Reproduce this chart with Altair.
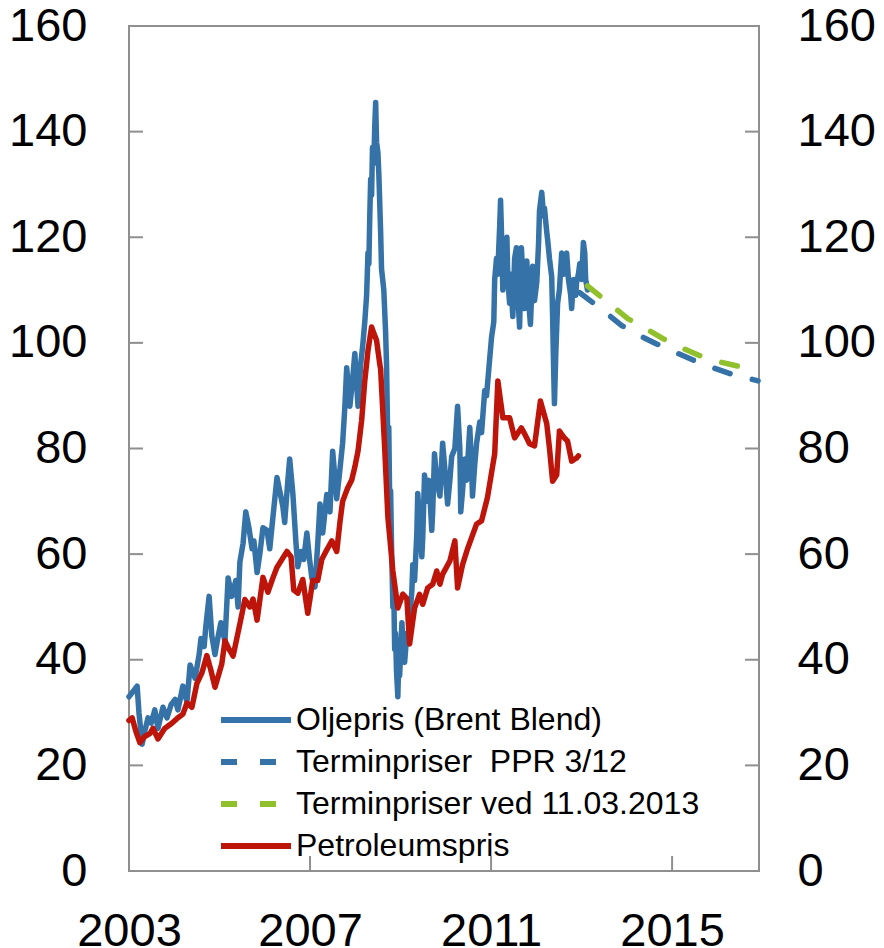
import altair as alt
import pandas as pd

# ---- data ----
brent = [
    (2003.00, 33), (2003.09, 34), (2003.18, 35), (2003.22, 30), (2003.29, 24), (2003.35, 26.5),
    (2003.42, 29), (2003.49, 28), (2003.57, 30.5), (2003.64, 27), (2003.75, 31), (2003.84, 29),
    (2003.93, 31.5), (2004.02, 32.5), (2004.08, 30.5), (2004.19, 35), (2004.28, 32), (2004.35, 39),
    (2004.46, 36.5), (2004.55, 41), (2004.59, 44), (2004.66, 42.5), (2004.70, 46.5), (2004.77, 52),
    (2004.83, 44.5), (2004.90, 41), (2004.96, 44), (2005.03, 47), (2005.12, 43.5), (2005.19, 55.5),
    (2005.27, 52), (2005.36, 55), (2005.41, 50), (2005.45, 58.5), (2005.52, 62), (2005.58, 68),
    (2005.65, 65), (2005.72, 61), (2005.76, 62.5), (2005.83, 56.5), (2005.89, 60), (2005.96, 65),
    (2006.05, 64.5), (2006.11, 61), (2006.18, 67), (2006.27, 74.5), (2006.33, 72), (2006.40, 69),
    (2006.44, 66), (2006.51, 74), (2006.55, 78), (2006.62, 71.5), (2006.69, 62), (2006.73, 57.6),
    (2006.80, 60.5), (2006.86, 59), (2006.93, 64), (2006.99, 59), (2007.04, 55.5), (2007.11, 53.8),
    (2007.17, 62), (2007.22, 69.5), (2007.28, 64), (2007.37, 71.3), (2007.44, 68), (2007.50, 79.5),
    (2007.59, 70.5), (2007.66, 76), (2007.72, 81), (2007.77, 88), (2007.81, 95.3), (2007.88, 88),
    (2007.94, 93), (2007.99, 98), (2008.06, 88), (2008.12, 96), (2008.17, 100), (2008.21, 104),
    (2008.25, 109), (2008.28, 117), (2008.30, 115), (2008.32, 124), (2008.34, 131), (2008.36, 128),
    (2008.38, 137), (2008.41, 134), (2008.43, 141), (2008.45, 145.5), (2008.47, 138), (2008.50, 136),
    (2008.52, 132), (2008.54, 126.5), (2008.56, 121), (2008.58, 114), (2008.63, 110), (2008.67, 102),
    (2008.69, 96), (2008.72, 80), (2008.74, 84), (2008.76, 70), (2008.78, 72), (2008.80, 62),
    (2008.83, 50), (2008.85, 53), (2008.87, 42), (2008.89, 45), (2008.91, 38), (2008.94, 33),
    (2008.96, 40), (2008.98, 37), (2009.03, 47), (2009.07, 41), (2009.09, 39.5), (2009.14, 45),
    (2009.16, 43), (2009.20, 48), (2009.25, 53), (2009.27, 58), (2009.31, 55), (2009.36, 64),
    (2009.38, 71.5), (2009.42, 66), (2009.47, 59.5), (2009.49, 63), (2009.53, 75), (2009.58, 70),
    (2009.62, 74), (2009.64, 72.5), (2009.69, 64.5), (2009.71, 68), (2009.75, 79), (2009.80, 74),
    (2009.87, 71), (2009.93, 81), (2009.98, 76), (2010.04, 69.5), (2010.09, 74), (2010.13, 78.5),
    (2010.20, 80), (2010.26, 88), (2010.31, 80), (2010.33, 68), (2010.37, 72), (2010.42, 78),
    (2010.46, 74), (2010.53, 84), (2010.57, 76), (2010.59, 71), (2010.64, 77), (2010.68, 81),
    (2010.75, 85), (2010.79, 83), (2010.86, 91), (2010.90, 90), (2010.97, 97), (2011.01, 101),
    (2011.06, 104), (2011.08, 112), (2011.12, 116), (2011.15, 113), (2011.17, 118), (2011.19, 122),
    (2011.21, 127), (2011.24, 118), (2011.26, 110), (2011.30, 117), (2011.35, 120), (2011.37, 112),
    (2011.41, 107.5), (2011.43, 113), (2011.48, 105), (2011.52, 116), (2011.56, 118), (2011.59, 109),
    (2011.63, 103), (2011.65, 110), (2011.67, 118), (2011.72, 110), (2011.74, 106.5), (2011.79, 115.5),
    (2011.83, 108), (2011.87, 103.5), (2011.92, 114.5), (2011.96, 108), (2012.01, 111.5), (2012.05, 119),
    (2012.07, 125), (2012.12, 128.5), (2012.16, 124), (2012.18, 125.5), (2012.23, 121), (2012.25, 119.5),
    (2012.29, 116), (2012.34, 112.5), (2012.36, 105), (2012.38, 96), (2012.40, 88.5), (2012.43, 98),
    (2012.47, 107.5), (2012.51, 110), (2012.56, 117), (2012.60, 113), (2012.62, 115), (2012.67, 117),
    (2012.71, 112), (2012.76, 109), (2012.78, 106.5), (2012.82, 112), (2012.87, 109), (2012.89, 111.5),
    (2012.93, 113), (2012.96, 115), (2013.00, 112), (2013.04, 119), (2013.07, 117), (2013.09, 112),
    (2013.13, 110),
]

petroleum = [
    (2003.00, 28.5), (2003.07, 29), (2003.15, 26.5), (2003.24, 24.3), (2003.35, 25.5), (2003.46, 26),
    (2003.53, 27), (2003.64, 25), (2003.79, 27), (2003.95, 28), (2004.08, 29), (2004.19, 29.7),
    (2004.28, 31.8), (2004.39, 31), (2004.50, 35.5), (2004.61, 37.5), (2004.72, 40.8), (2004.81, 38),
    (2004.90, 34.8), (2005.05, 39.2), (2005.12, 43.6), (2005.21, 42), (2005.30, 40.7), (2005.45, 46.8),
    (2005.56, 51.4), (2005.67, 50), (2005.74, 51.5), (2005.83, 47.5), (2005.96, 55.6), (2006.07, 52.8),
    (2006.18, 55.5), (2006.27, 57.5), (2006.38, 59), (2006.49, 60.5), (2006.58, 59.5), (2006.64, 53.2),
    (2006.73, 52.6), (2006.84, 55.2), (2006.95, 48.8), (2007.06, 55), (2007.17, 55), (2007.26, 59),
    (2007.37, 60.8), (2007.48, 62.5), (2007.59, 60.5), (2007.66, 66), (2007.72, 70), (2007.83, 72.5),
    (2007.92, 74), (2007.99, 76.5), (2008.06, 79.5), (2008.14, 85.3), (2008.21, 92.8), (2008.28, 98.5),
    (2008.36, 103), (2008.41, 101.8), (2008.47, 100.5), (2008.54, 96), (2008.56, 95), (2008.65, 80),
    (2008.72, 67), (2008.83, 56.8), (2008.94, 49.8), (2009.05, 52.4), (2009.14, 51.6), (2009.20, 43),
    (2009.31, 49.8), (2009.42, 52.4), (2009.49, 50.5), (2009.60, 53.6), (2009.71, 54.3), (2009.80, 56.8),
    (2009.87, 54.3), (2009.93, 56.2), (2010.09, 58.7), (2010.20, 62.5), (2010.26, 53.6), (2010.37, 58),
    (2010.48, 61), (2010.68, 65.7), (2010.79, 66.3), (2010.92, 70.7), (2011.08, 79), (2011.15, 92.8),
    (2011.26, 85.8), (2011.41, 85.8), (2011.52, 82), (2011.67, 83.9), (2011.74, 82.8), (2011.85, 80.9),
    (2011.96, 80.5), (2012.09, 89), (2012.23, 84.7), (2012.29, 80.1), (2012.36, 73.8), (2012.45, 75),
    (2012.51, 83.3), (2012.62, 82), (2012.69, 81.4), (2012.78, 77.6), (2012.89, 78.2), (2012.93, 78.6),
]

forward_ppr = [
    (2012.96, 109.5), (2013.25, 107.6), (2013.50, 106.0), (2013.88, 103.3), (2014.25, 101.5),
    (2014.66, 99.8), (2015.00, 98.5), (2015.45, 96.8), (2015.90, 95.3), (2016.31, 94.1), (2016.90, 92.8),
]

forward_now = [
    (2013.13, 110.8), (2013.50, 108.2), (2014.02, 104.6), (2014.50, 102.3), (2014.80, 100.8),
    (2015.20, 99.1), (2015.60, 97.6), (2016.00, 96.5), (2016.50, 95.5), (2016.90, 94.7),
]

series_names = [
    "Oljepris (Brent Blend)",
    "Terminpriser\u00a0 PPR 3/12",
    "Terminpriser ved 11.03.2013",
    "Petroleumspris",
]
series_colors = ["#3472a8", "#3472a8", "#91c02d", "#bd1509"]
series_dash = [[1, 0], [16, 23], [16, 23], [1, 0]]

y_ticks = [0, 20, 40, 60, 80, 100, 120, 140, 160]
y_inner_ticks = [20, 40, 60, 80, 100, 120, 140]
x_ticks = [2003, 2007, 2011, 2015]
x_inner_ticks = [2007, 2011, 2015]

# ---- build table ----
rows = []
for name, pts in zip(series_names, [brent, forward_ppr, forward_now, petroleum]):
    for yr, v in pts:
        rows.append({"series": name, "year": yr, "value": v})
df = pd.DataFrame(rows)

W, H = 630, 845
FONT = "Liberation Sans"
GRAY = "#8f8f8f"
LW = 5.5

x_scale = alt.Scale(domain=[2003, 2016.92], nice=False, zero=False)
y_scale = alt.Scale(domain=[0, 160], nice=False, zero=False)


def make_legend():
    return alt.Legend(
        title=None, orient="none", legendX=92, legendY=678, padding=0,
        symbolType="M-5,0L5,0", symbolSize=196, symbolStrokeWidth=6,
        symbolOffset=19, labelOffset=24, rowPadding=10,
        labelFont=FONT, labelFontSize=32, labelColor="#000000", labelLimit=700,
    )


color_enc = alt.Color(
    "series:N",
    scale=alt.Scale(domain=series_names, range=series_colors),
    sort=series_names,
    legend=make_legend(),
)
dash_enc = alt.StrokeDash(
    "series:N",
    scale=alt.Scale(domain=series_names, range=series_dash),
    sort=series_names,
    legend=make_legend(),
)

base = alt.Chart(df)

lines_main = base.transform_filter(
    alt.datum.series != "Petroleumspris"
).mark_line(strokeWidth=LW, strokeCap="round", strokeJoin="round").encode(
    x=alt.X("year:Q", scale=x_scale, title=None,
            axis=alt.Axis(values=x_ticks, format="d", labelFont=FONT, labelFontSize=47,
                          labelColor="#000000", labelPadding=37, labelFlush=False,
                          labelOverlap=False, domain=False, ticks=False, grid=False)),
    y=alt.Y("value:Q", scale=y_scale, title=None,
            axis=alt.Axis(orient="left", values=y_ticks, labelFont=FONT, labelFontSize=47,
                          labelColor="#000000", labelPadding=42, labelOverlap=False,
                          domain=False, ticks=False, grid=False)),
    color=color_enc,
    strokeDash=dash_enc,
    detail="series:N",
)

lines_red = base.transform_filter(
    alt.datum.series == "Petroleumspris"
).mark_line(strokeWidth=LW, strokeCap="round", strokeJoin="round").encode(
    x=alt.X("year:Q", scale=x_scale, title=None),
    y=alt.Y("value:Q", scale=y_scale, axis=None),
    color=color_enc,
    strokeDash=dash_enc,
)

ytick_df = pd.DataFrame({"v": y_inner_ticks})
right_ticks = alt.Chart(ytick_df).mark_rule(color=GRAY, strokeWidth=2).encode(
    y=alt.Y("v:Q", scale=y_scale, title=None,
            axis=alt.Axis(orient="right", values=y_ticks, labelFont=FONT, labelFontSize=47,
                          labelColor="#000000", labelPadding=38, labelOverlap=False,
                          domain=False, ticks=False, grid=False)),
    x=alt.value(W - 14),
    x2=alt.value(W),
)
left_ticks = alt.Chart(ytick_df).mark_rule(color=GRAY, strokeWidth=2).encode(
    y=alt.Y("v:Q", scale=y_scale, axis=None),
    x=alt.value(0),
    x2=alt.value(14),
)
xtick_df = pd.DataFrame({"t": x_inner_ticks})
bottom_ticks = alt.Chart(xtick_df).mark_rule(color=GRAY, strokeWidth=2).encode(
    x=alt.X("t:Q", scale=x_scale, title=None),
    y=alt.value(H - 15),
    y2=alt.value(H),
)

chart = alt.layer(
    lines_main, lines_red, left_ticks, right_ticks, bottom_ticks
).resolve_scale(
    y="independent"
).properties(
    width=W, height=H,
    padding={"left": 121, "top": 18, "right": 116, "bottom": 90},
    autosize=alt.AutoSizeParams(type="none"),
).configure_view(
    stroke=GRAY, strokeWidth=2
)

chart.save("out.html", embed_options={"renderer": "svg", "actions": False})
